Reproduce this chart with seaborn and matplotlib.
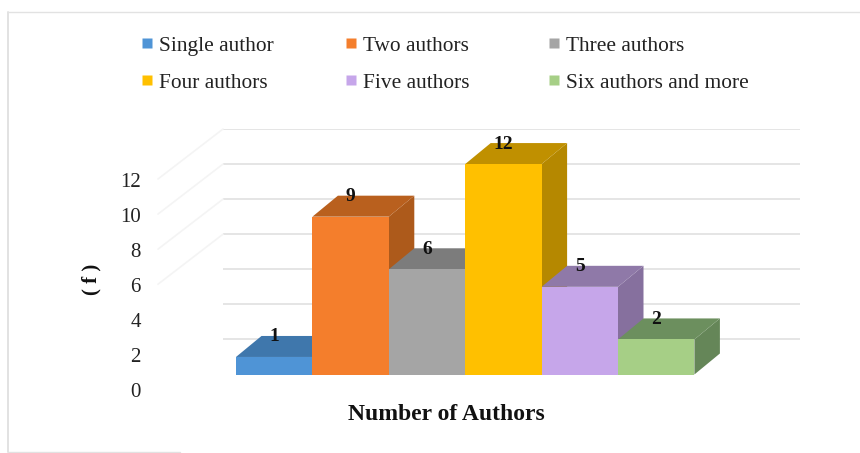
import matplotlib
matplotlib.use("Agg")
import matplotlib.pyplot as plt
from matplotlib.lines import Line2D
from matplotlib.patches import Polygon
from matplotlib.transforms import ScaledTranslation
import pandas as pd
import seaborn as sns

categories = ["Single author", "Two authors", "Three authors",
              "Four authors", "Five authors", "Six authors and more"]
values = [1, 9, 6, 12, 5, 2]
front_colors = ["#4F94D6", "#F47E2C", "#A5A5A5", "#FFC000", "#C6A6EA", "#A6CF86"]
top_colors = ["#3F77AC", "#B9601E", "#7C7C7C", "#C09000", "#8F79A8", "#6C8F5E"]
side_colors = ["#3A6E9F", "#AD5A1B", "#6F6F6F", "#B58800", "#86709E", "#658658"]
y_ticks = [0, 2, 4, 6, 8, 10, 12]
grid_levels = [2, 4, 6, 8, 10, 12, 14]

W, H = 860, 453
sns.set_theme(style="white")
plt.rcParams["font.family"] = ["Liberation Serif", "DejaVu Serif"]

fig = plt.figure(figsize=(W / 100, H / 100), dpi=100, facecolor="white")
# axes: value 0 on the baseline of the front faces, value 14 on the top rear gridline
ax_l, ax_r, ax_base, ax_top = 150, 800, 374.5, 129
ax = fig.add_axes([ax_l / W, 1 - ax_base / H, (ax_r - ax_l) / W, (ax_base - ax_top) / H])
ax.patch.set_alpha(0)

df = pd.DataFrame({"category": categories, "value": values})
sns.barplot(data=df, x="category", y="value", hue="category", hue_order=categories,
            palette=front_colors, width=1, saturation=1, legend=False, ax=ax, linewidth=0)

bar_px = 76.4
ax.set_xlim(-0.5 + (ax_l - 236) / bar_px, -0.5 + (ax_r - 236) / bar_px)
ax.set_ylim(0, 14)
px_per_unit = (ax_base - ax_top) / 14
depth_x = 25.5 / bar_px
depth_y = 21 / px_per_unit

# rear wall gridlines
ax.hlines(grid_levels, -0.5 + (223 - 236) / bar_px, -0.5 + (800 - 236) / bar_px,
          color="#DEDEDE", linewidth=1.1, zorder=0)
# faint floor/side-wall gridlines
for lev in grid_levels[-4:]:
    x0 = -0.5 + (223 - 236) / bar_px
    ax.plot([x0, x0 - 65 / bar_px], [lev, lev - 50 / px_per_unit],
            color="#F4F4F4", linewidth=1.2, zorder=0, clip_on=False)

# depth faces from the bars seaborn drew, painted left to right
for i, bar in enumerate(ax.patches[:len(values)]):
    x, w, h = bar.get_x(), bar.get_width(), bar.get_height()
    ax.add_patch(Polygon([(x + w, 0), (x + w + depth_x, depth_y),
                          (x + w + depth_x, h + depth_y), (x + w, h)],
                         closed=True, fc=side_colors[i], ec="none", zorder=2 + 3 * i))
    ax.add_patch(Polygon([(x, h), (x + w, h), (x + w + depth_x, h + depth_y),
                          (x + depth_x, h + depth_y)],
                         closed=True, fc=top_colors[i], ec="none", zorder=3 + 3 * i))
    bar.set_zorder(4 + 3 * i)
    ax.text(x + w / 2, h + 20 / px_per_unit, str(values[i]), ha="center", va="center",
            fontsize=14, fontweight="bold", color="#111111", zorder=40)

sns.despine(ax=ax, left=True, bottom=True)
ax.set_xticks([])
ax.set_xlabel("")
ax.set_ylabel("")
ax.set_yticks(y_ticks)
ax.tick_params(axis="y", length=0, pad=6.5, labelsize=15, labelcolor="#222222")
shift = ScaledTranslation(0, -15.5 / 100, fig.dpi_scale_trans)
for lab in ax.get_yticklabels():
    lab.set_transform(lab.get_transform() + shift)

fig.text(446 / W, 1 - 414 / H, "Number of Authors", ha="center", va="center",
         fontsize=17, fontweight="bold", color="#111111")
fig.text(91 / W, 1 - 279 / H, "( f )", rotation=90, ha="center", va="center",
         fontsize=15, fontweight="bold", color="#111111")

# legend: three columns, each placed on its own
columns = [[0, 3], [1, 4], [2, 5]]
col_left = [135, 339, 542]
for col, left in zip(columns, col_left):
    handles = [Line2D([], [], ls="none", marker="s", markersize=7.5,
                      mfc=front_colors[j], mec="none") for j in col]
    fig.legend(handles, [categories[j] for j in col], loc="upper left",
               bbox_to_anchor=(left / W, 1 - 36 / H), frameon=False, fontsize=15.4,
               labelspacing=0.785, handletextpad=0.0, handlelength=1.12,
               borderpad=0, borderaxespad=0, labelcolor="#222222")

# thin picture border: left, top and bottom edges only
border = "#E2E2E2"
fig.add_artist(Line2D([8 / W, 8 / W], [1 / H, 1 - 12 / H], color=border, linewidth=1.4,
                      transform=fig.transFigure))
fig.add_artist(Line2D([8 / W, 1], [1 - 12 / H, 1 - 12 / H], color=border, linewidth=1.0,
                      transform=fig.transFigure))
fig.add_artist(Line2D([8 / W, 180 / W], [1 / H, 1 / H], color=border, linewidth=1.0,
                      transform=fig.transFigure))

fig.savefig("out.png", dpi=100, facecolor="white")
